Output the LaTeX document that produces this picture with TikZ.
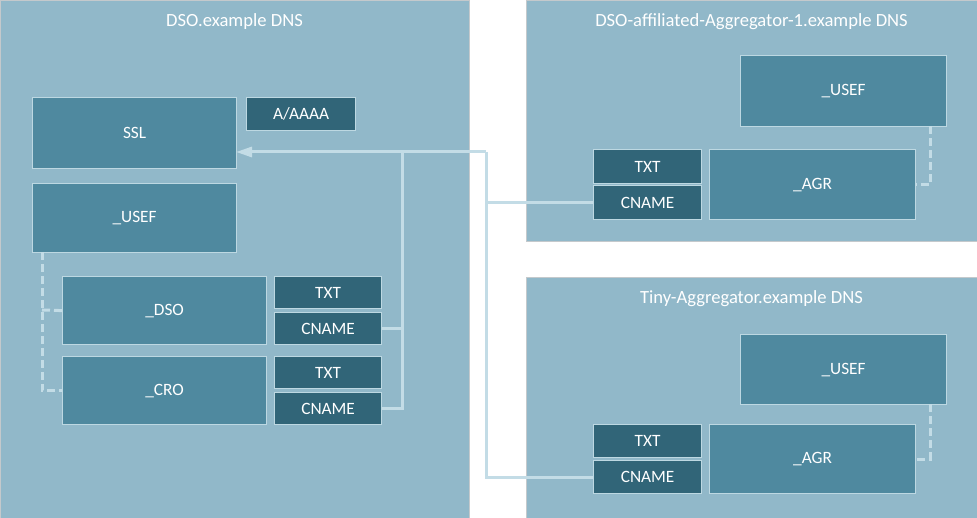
\documentclass[tikz,border=0pt]{standalone}
\usepackage{fontspec}
\setmainfont{Carlito}
\usepackage{xcolor}
\usepackage{tikz}
\usetikzlibrary{arrows.meta}

\definecolor{zonebg}{HTML}{91B8C9}
\definecolor{zoneedge}{HTML}{C4C9CC}
\definecolor{recfill}{HTML}{4F899F}
\definecolor{typefill}{HTML}{316578}
\definecolor{boxedge}{HTML}{BDD8E2}
\definecolor{linkcol}{HTML}{C3DCE6}

\begin{document}
\begin{tikzpicture}[x=1pt, y=-1pt]
            \tikzset{
                zone/.style={fill=zonebg, draw=zoneedge, line width=0.8pt},
                zone_title/.style={text=white, font=\fontsize{18.6}{20}\selectfont},
                rec_node/.style={draw=boxedge, fill=recfill, line width=1.2pt, text=white, anchor=north west, inner sep=0pt, font=\fontsize{17.3}{18}\selectfont},
                type_node/.style={rec_node, fill=typefill},
                link/.style={draw=linkcol, line width=3pt},
                soft_link/.style={link, dash pattern=on 8pt off 4pt}
            }
            \fill[white] (0,0) rectangle (977,518);
            \useasboundingbox (0,0) rectangle (977,518);
            % zones
            \draw[zone] (0,0) rectangle (469,518);
            \draw[zone] (526,0) rectangle (977,241);
            \draw[zone] (526,277) rectangle (977,518);
            \node[zone_title] (dso_title) at (234.5,22) {DSO.example DNS};
            \node[zone_title] (agr_title) at (751.5,22) {DSO-affiliated-Aggregator-1.example DNS};
            \node[zone_title] (tiny_title) at (751.5,299) {Tiny-Aggregator.example DNS};
            % DSO.example
            \node[rec_node, minimum width=204pt, minimum height=71pt] (ssl) at (32,97) {SSL};
            \node[type_node, minimum width=109pt, minimum height=33pt] (addr) at (246,97) {A/AAAA};
            \node[rec_node, minimum width=204pt, minimum height=69pt] (usef) at (32,183) {\_USEF};
            \node[rec_node, minimum width=204pt, minimum height=68pt] (dso) at (62,276) {\_DSO};
            \node[type_node, minimum width=107pt, minimum height=32pt] (dso_txt) at (274,276) {TXT};
            \node[type_node, minimum width=107pt, minimum height=32pt] (dso_cn) at (274,312) {CNAME};
            \node[rec_node, minimum width=204pt, minimum height=68pt] (cro) at (62,356) {\_CRO};
            \node[type_node, minimum width=107pt, minimum height=32pt] (cro_txt) at (274,356) {TXT};
            \node[type_node, minimum width=107pt, minimum height=32pt] (cro_cn) at (274,392) {CNAME};
            % DSO-affiliated-Aggregator-1.example
            \node[rec_node, minimum width=206pt, minimum height=71pt] (usef_a) at (740,55) {\_USEF};
            \node[rec_node, minimum width=206pt, minimum height=70pt] (agr_a) at (709,149) {\_AGR};
            \node[type_node, minimum width=108pt, minimum height=34pt] (txt_a) at (593,149) {TXT};
            \node[type_node, minimum width=108pt, minimum height=34pt] (cn_a) at (593,185) {CNAME};
            % Tiny-Aggregator.example
            \node[rec_node, minimum width=206pt, minimum height=70pt] (usef_b) at (740,334) {\_USEF};
            \node[rec_node, minimum width=206pt, minimum height=69pt] (agr_b) at (709,424) {\_AGR};
            \node[type_node, minimum width=108pt, minimum height=33pt] (txt_b) at (593,424) {TXT};
            \node[type_node, minimum width=108pt, minimum height=33pt] (cn_b) at (593,460) {CNAME};
            % junctions
            \coordinate (ssl_in) at (236,152);
            \coordinate (j_dso) at (402,152);
            \coordinate (j_agr) at (486,152);
            \coordinate (usef_out) at (42,252);
            \coordinate (dso_in) at (42,310);
            \coordinate (usef_a_out) at (930,126);
            \coordinate (usef_b_out) at (930,404);
            % CNAME links
            \path[link] (cn_a.west) -| (j_agr);
            \path[link] (cn_b.west) -| (j_agr);
            \path[link] (dso_cn.east) -| (j_dso);
            \path[link] (cro_cn.east) -| (j_dso);
            \path[link, -{Triangle[length=16pt, width=10pt]}] (j_agr) -- (ssl_in);
            % parent links
            \path[soft_link] (usef_out) |- (cro.west);
            \path[soft_link] (dso_in) -- (dso.west);
            \path[soft_link] (usef_a_out) |- (agr_a.east);
            \path[soft_link] (usef_b_out) |- (agr_b.east);
        \end{tikzpicture}
\end{document}
